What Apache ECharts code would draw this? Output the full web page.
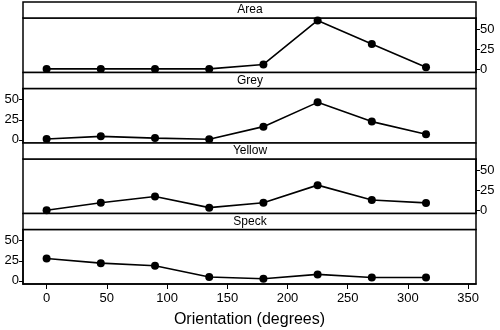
<!DOCTYPE html>
<html>
<head>
<meta charset="utf-8">
<script src="https://cdn.jsdelivr.net/npm/echarts@6/dist/echarts.min.js"></script>
<style>html,body{margin:0;padding:0;background:#fff}#c{width:500px;height:330px}</style>
</head>
<body>
<div id="c"></div>
<script>
const orientation = [0, 45, 90, 135, 180, 225, 270, 315];
const panelNames = ['Area', 'Grey', 'Yellow', 'Speck'];
const area   = [0.5, 0.5, 0.5, 0.5, 6, 61, 31.5, 2.5];
const grey   = [1, 4.3, 2.1, 0.7, 16.4, 46.7, 22.7, 6.8];
const yellow = [0, 9.5, 17.3, 3.3, 9.5, 31.4, 12.9, 9.2];
const speck  = [27.9, 22, 18.7, 4.7, 2.5, 8, 4.2, 4.2];
const xTicks = [0, 50, 100, 150, 200, 250, 300, 350];
const yTicks = [0, 25, 50];
const seriesData = [area, grey, yellow, speck];
const ySide = ['right', 'left', 'right', 'left'];

const FONT = '"Liberation Sans", Arial, Helvetica, sans-serif';
const L = 23, R = 24, TOP = 2, PANEL = 70.5, STRIP = 16;
const grids = [], xAxes = [], yAxes = [], series = [], titles = [];

panelNames.forEach((name, k) => {
  const t = TOP + PANEL * k;
  grids.push({left: L, right: R, top: t, height: STRIP, show: true, backgroundColor: '#fff', borderColor: '#000', borderWidth: 1.5, z: 3});
  xAxes.push({gridIndex: 2 * k, type: 'value', show: false, min: 0, max: 1});
  yAxes.push({gridIndex: 2 * k, type: 'value', show: false, min: 0, max: 1});
  titles.push({text: name, left: 'center', top: t + 2, padding: 0, textStyle: {fontFamily: FONT, fontSize: 12, fontWeight: 'normal', color: '#000'}});
  const last = k === panelNames.length - 1;
  grids.push({left: L, right: R, top: t + STRIP, height: PANEL - STRIP, show: true, backgroundColor: '#fff', borderColor: '#000', borderWidth: 1.5});
  xAxes.push({
    gridIndex: 2 * k + 1, type: 'value', min: -19.6, max: 356.5,
    show: last, position: 'bottom',
    name: last ? 'Orientation (degrees)' : '', nameLocation: 'middle', nameGap: 28,
    nameTextStyle: {fontFamily: FONT, fontSize: 16, color: '#000'},
    axisLine: {show: true, onZero: false, lineStyle: {color: '#000', width: 1.5}},
    axisTick: {show: true, length: 5, customValues: xTicks, lineStyle: {color: '#000', width: 1}},
    axisLabel: {show: true, customValues: xTicks, fontFamily: FONT, fontSize: 13, color: '#000', margin: 8},
    splitLine: {show: false}
  });
  yAxes.push({
    gridIndex: 2 * k + 1, type: 'value', min: -4, max: 64, position: ySide[k],
    axisLine: {show: true, onZero: false, lineStyle: {color: '#000', width: 1.5}},
    axisTick: {show: true, length: 4, customValues: yTicks, lineStyle: {color: '#000', width: 1}},
    axisLabel: {show: true, customValues: yTicks, fontFamily: FONT, fontSize: 13, color: '#000', margin: 4},
    splitLine: {show: false}
  });
  series.push({
    type: 'line', xAxisIndex: 2 * k + 1, yAxisIndex: 2 * k + 1,
    data: orientation.map((x, i) => [x, seriesData[k][i]]),
    symbol: 'circle', symbolSize: 8, showSymbol: true,
    itemStyle: {color: '#000'}, lineStyle: {color: '#000', width: 1.6},
    animation: false, silent: true
  });
});

const chart = echarts.init(document.getElementById('c'), null, {renderer: 'canvas'});
chart.setOption({
  backgroundColor: '#fff', animation: false,
  title: titles, grid: grids, xAxis: xAxes, yAxis: yAxes, series: series
});
</script>
</body>
</html>
